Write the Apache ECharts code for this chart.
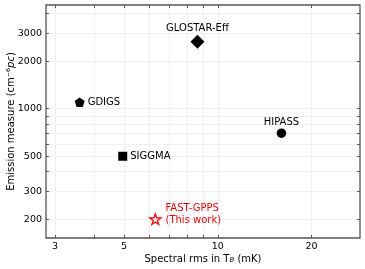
<!DOCTYPE html>
<html>
<head>
<meta charset="utf-8">
<script src="https://cdn.jsdelivr.net/npm/echarts@6/dist/echarts.min.js"></script>
<style>
html,body{margin:0;padding:0;background:#fff;}
#c{width:365px;height:269px;}
</style>
</head>
<body>
<div id="c"></div>
<script>
// ---- data ----
const surveys = ['GDIGS', 'SIGGMA', 'GLOSTAR-Eff', 'HIPASS', 'FAST-GPPS\n(This work)'];
const rmsMK = [3.6, 4.95, 8.6, 16, 6.3];
const emissionMeasure = [1100, 500, 2650, 700, 200];
const xTickValues = [3, 4, 5, 6, 7, 8, 9, 10, 20];
const xTickLabels = [3, 5, 10, 20];
const yTickValues = [200, 300, 400, 500, 600, 700, 800, 900, 1000, 2000, 3000, 4000];
const yTickLabels = [200, 300, 500, 1000, 2000, 3000];

const L = Math.log10;
const FONT = 'DejaVu Sans';
const starPath = 'path://M100,0 L122.45,69.1 L195.1,69.1 L136.3,111.8 L158.8,180.9 L100,138.2 L41.2,180.9 L63.7,111.8 L4.9,69.1 L77.55,69.1 Z';
const pentPath = 'path://M100,0 L195.1,69.1 L158.8,180.9 L41.2,180.9 L4.9,69.1 Z';

const styles = [
  {symbol: pentPath, size: [10, 9.5], label: {position: 'right', distance: 3, align: 'left'}},
  {symbol: 'rect', size: 9, label: {position: 'right', distance: 3, align: 'left'}},
  {symbol: 'diamond', size: 14, label: {position: 'top', distance: 1}},
  {symbol: 'circle', size: 9.5, label: {position: 'top', distance: 1}},
  {symbol: starPath, size: [11, 10.5], label: {position: 'right', distance: 4, offset: [0, -5], color: '#ff0000', lineHeight: 11.5, align: 'left'}, hollow: true}
];

const frame = '#555';
const gridColor = '#ececec';

function xAx(pos, showLabel) {
  return {
    type: 'value', position: pos,
    min: L(2.807), max: L(28.6),
    axisLine: {show: false},
    axisTick: {show: true, inside: true, length: 3, customValues: xTickValues.map(L), lineStyle: {color: frame, width: 1}},
    axisLabel: {show: showLabel, customValues: xTickLabels.map(L), formatter: v => String(Math.round(Math.pow(10, v))), fontFamily: FONT, fontSize: 9.5, color: '#000', margin: 4},
    splitLine: {show: showLabel, lineStyle: {color: gridColor, width: 0.8}},
    name: showLabel ? 'Spectral rms in T{sub|B} (mK)' : '',
    nameLocation: 'middle', nameGap: 16, nameMoveOverlap: false,
    nameTextStyle: {fontFamily: FONT, fontSize: 10, color: '#000', rich: {sub: {fontSize: 7, fontStyle: 'italic', fontFamily: FONT, verticalAlign: 'bottom', lineHeight: 9}}}
  };
}
function yAx(pos, showLabel) {
  return {
    type: 'value', position: pos,
    min: L(152), max: L(4530),
    axisLine: {show: false},
    axisTick: {show: true, inside: true, length: 3, customValues: yTickValues.map(L), lineStyle: {color: frame, width: 1}},
    axisLabel: {show: showLabel, customValues: yTickLabels.map(L), formatter: v => String(Math.round(Math.pow(10, v))), fontFamily: FONT, fontSize: 9.5, color: '#000', margin: 4},
    splitLine: {show: showLabel, lineStyle: {color: gridColor, width: 0.8}},
    name: showLabel ? 'Emission measure (cm⁻⁶{it|pc})' : '',
    nameLocation: 'middle', nameGap: 30, nameMoveOverlap: false,
    nameTextStyle: {fontFamily: FONT, fontSize: 10, color: '#000', rich: {it: {fontSize: 10, fontStyle: 'italic', fontFamily: FONT}}}
  };
}

const series = surveys.map((name, i) => {
  const st = styles[i];
  return {
    type: 'scatter', name: name, xAxisIndex: 0, yAxisIndex: 0,
    symbol: st.symbol, symbolSize: st.size,
    itemStyle: st.hollow ? {color: 'rgba(0,0,0,0)', borderColor: '#ff0000', borderWidth: 1.3, opacity: 1} : {color: '#000', opacity: 1},
    label: Object.assign({show: true, formatter: name, fontFamily: FONT, fontSize: 10, color: '#000'}, st.label),
    data: [[L(rmsMK[i]), L(emissionMeasure[i])]],
    z: 5
  };
});

const chart = echarts.init(document.getElementById('c'), null, {renderer: 'canvas'});
chart.setOption({
  animation: false,
  grid: {left: 46, right: 5, top: 5, bottom: 31, show: true, borderColor: frame, borderWidth: 1.3, backgroundColor: '#fff', containLabel: false, outerBoundsMode: 'none'},
  xAxis: [xAx('bottom', true), xAx('top', false)],
  yAxis: [yAx('left', true), yAx('right', false)],
  series: series
});
</script>
</body>
</html>
